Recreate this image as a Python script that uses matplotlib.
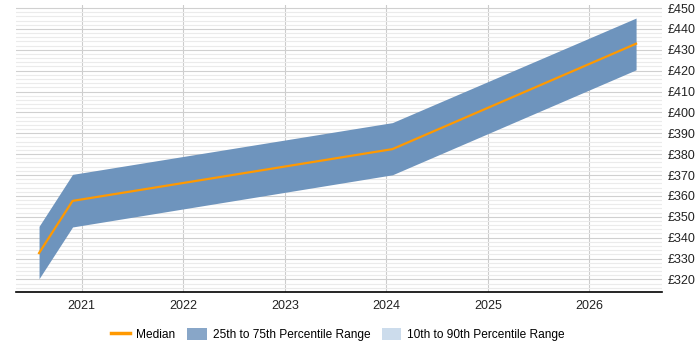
import matplotlib.pyplot as plt
from matplotlib.ticker import MultipleLocator, FuncFormatter
from matplotlib.patches import Patch
from matplotlib.lines import Line2D

plt.rcParams['font.family'] = ['Liberation Sans', 'DejaVu Sans']

years = [2020.58, 2020.91, 2024.06, 2026.46]
p25 = [320.3, 345.1, 370.1, 420.4]
median = [332.6, 357.6, 382.4, 432.9]
p75 = [345.4, 370.3, 395.1, 445.2]
tick_years = [2021, 2022, 2023, 2024, 2025, 2026]

fig = plt.figure(figsize=(7, 3.5), dpi=100)
ax = fig.add_axes([0.0224, 0.166, 0.924, 0.82])

ax.fill_between(years, p25, p75, color='#6e94bd', linewidth=0, zorder=2)
ax.plot(years, median, color='#ff9900', linewidth=1.6, zorder=3)

ax.set_xlim(2020.35, 2026.72)
ax.set_ylim(314, 451.5)
ax.set_xticks(tick_years)
ax.set_xticklabels([str(y) for y in tick_years])
ax.yaxis.set_major_locator(MultipleLocator(10))
ax.yaxis.set_minor_locator(MultipleLocator(2))
ax.yaxis.set_major_formatter(FuncFormatter(lambda v, p: f"£{v:.0f}"))
ax.yaxis.tick_right()
ax.set_yticks([t for t in range(320, 451, 10)])

ax.grid(axis='y', which='major', color='#d0d0d0', linewidth=0.8, zorder=0)
ax.grid(axis='y', which='minor', color='#ebebeb', linewidth=0.8, zorder=0)
ax.grid(axis='x', which='major', color='#cccccc', linewidth=0.8, zorder=0)
ax.set_axisbelow(True)

for s in ['top', 'left', 'right']:
    ax.spines[s].set_visible(False)
ax.spines['bottom'].set_color('#000000')
ax.spines['bottom'].set_linewidth(1.2)
ax.tick_params(axis='both', which='both', length=0, labelsize=9, colors='#222222')
ax.tick_params(axis='x', pad=6)
ax.tick_params(axis='y', pad=4)

handles = [
    Line2D([0], [0], color='#ff9900', linewidth=2.5),
    Patch(facecolor='#88a6c8', edgecolor='none'),
    Patch(facecolor='#ccdcec', edgecolor='none'),
]
labels = ['Median', '25th to 75th Percentile Range', '10th to 90th Percentile Range']
fig.legend(handles, labels, loc='center', bbox_to_anchor=(0.483, 0.045), ncol=3,
           frameon=False, fontsize=8.6, handlelength=1.6, handleheight=1.2,
           columnspacing=1.0, handletextpad=0.5)

fig.savefig('out.png', dpi=100)
